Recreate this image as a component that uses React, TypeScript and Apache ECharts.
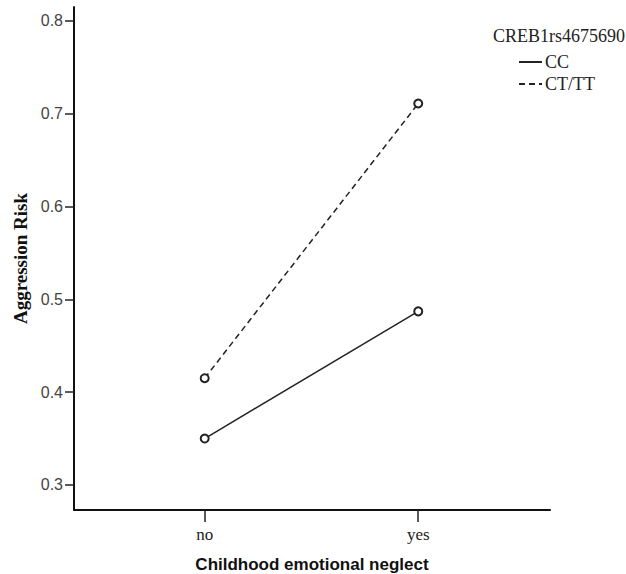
import React, { useEffect, useRef } from "react";
import * as echarts from "echarts";

const categories = ["no", "yes"];
const categoryPositions = [1, 2];
const seriesNames = ["CC", "CT/TT"];
const ccValues = [0.35, 0.487];
const ctttValues = [0.415, 0.711];
const yTicks = [0.3, 0.4, 0.5, 0.6, 0.7, 0.8];
const legendTitle = "CREB1rs4675690";
const xTitle = "Childhood emotional neglect";
const yTitle = "Aggression Risk";

export default function App() {
  const ref = useRef<HTMLDivElement>(null);
  useEffect(() => {
    document.body.style.margin = "0";
    const chart = echarts.init(ref.current!, null, { renderer: "svg" });
    const mk = (vals: number[]) => vals.map((v, i) => [categoryPositions[i], v]);
    const serif = "'Liberation Serif', 'Times New Roman', serif";
    const sans = "'Liberation Sans', Arial, sans-serif";
    chart.setOption({
      animation: false,
      backgroundColor: "#ffffff",
      title: {
        text: legendTitle,
        right: 1,
        top: 27,
        padding: 0,
        textStyle: { fontFamily: serif, fontWeight: "normal", fontSize: 18, color: "#222" },
      },
      legend: {
        orient: "vertical",
        left: 518,
        top: 53,
        padding: 0,
        itemWidth: 23,
        itemHeight: 14,
        itemGap: 4,
        itemStyle: { opacity: 0 },
        textStyle: { fontFamily: serif, fontSize: 18, color: "#222", padding: [0, 0, 0, -2] },
        data: seriesNames,
      },
      grid: { left: 74, right: 76, top: 7, bottom: 64, containLabel: false, outerBoundsMode: "none" },
      xAxis: {
        type: "value",
        min: 0.388,
        max: 2.617,
        name: xTitle,
        nameLocation: "middle",
        nameGap: 46,
        nameTextStyle: { fontFamily: sans, fontWeight: "bold", fontSize: 17, color: "#111" },
        axisLine: { show: true, onZero: false, lineStyle: { color: "#111", width: 2 } },
        axisTick: { show: true, customValues: categoryPositions, length: 12, lineStyle: { color: "#222", width: 1.5 } },
        axisLabel: {
          customValues: categoryPositions,
          formatter: (v: number) => categories[categoryPositions.indexOf(v)] ?? "",
          fontFamily: serif,
          fontSize: 17,
          color: "#222",
          margin: 16,
        },
        splitLine: { show: false },
      },
      yAxis: {
        type: "value",
        min: 0.273,
        max: 0.815,
        name: yTitle,
        nameLocation: "middle",
        nameGap: 43,
        nameRotate: 90,
        nameTextStyle: { fontFamily: serif, fontWeight: "bold", fontSize: 19, color: "#111" },
        axisLine: { show: true, onZero: false, lineStyle: { color: "#111", width: 2 } },
        axisTick: { show: true, customValues: yTicks, length: 9, lineStyle: { color: "#222", width: 1.5 } },
        axisLabel: {
          customValues: yTicks,
          formatter: (v: number) => v.toFixed(1),
          fontFamily: sans,
          fontSize: 16,
          color: "#444",
          margin: 11,
        },
        splitLine: { show: false },
      },
      series: [
        {
          name: seriesNames[0],
          type: "line",
          data: mk(ccValues),
          symbol: "emptyCircle",
          symbolSize: 8,
          lineStyle: { color: "#222", width: 1.5, type: "solid" },
          itemStyle: { color: "#222", borderWidth: 1.2 },
        },
        {
          name: seriesNames[1],
          type: "line",
          data: mk(ctttValues),
          symbol: "emptyCircle",
          symbolSize: 8,
          lineStyle: { color: "#222", width: 1.5, type: [6, 4] },
          itemStyle: { color: "#222", borderWidth: 1.2 },
        },
      ],
    });
    return () => chart.dispose();
  }, []);
  return <div ref={ref} style={{ width: 626, height: 574 }} />;
}
